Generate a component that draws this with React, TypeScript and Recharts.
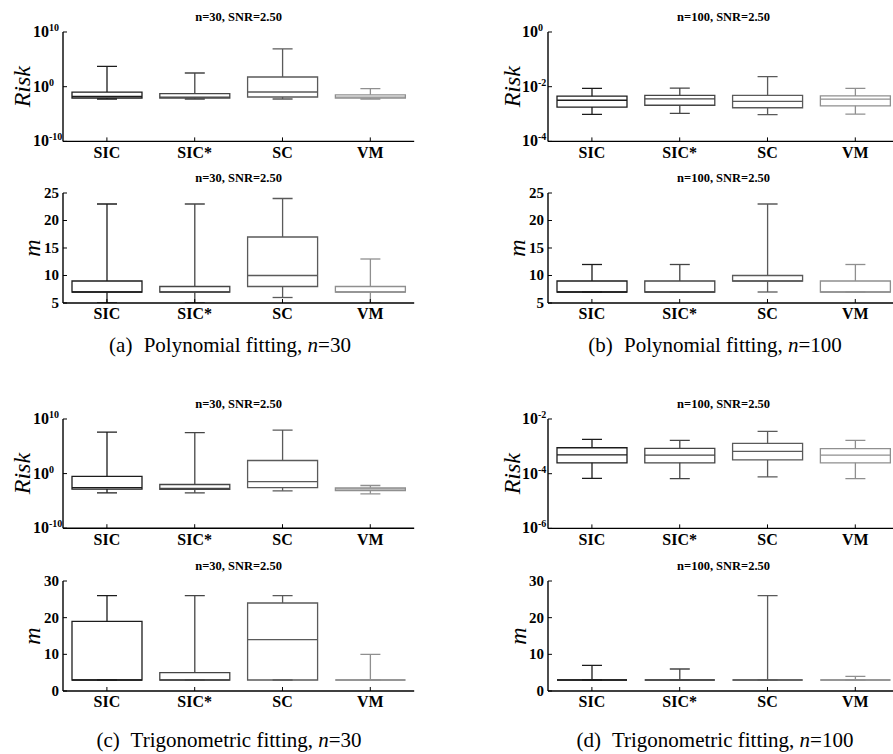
import React from 'react';
import { ComposedChart, Bar, XAxis, YAxis } from 'recharts';

// ---------- data ----------
const methods = ['SIC', 'SIC*', 'SC', 'VM'];
const methodColors = ['#1c1c1c', '#454545', '#5a5a5a', '#8f8f8f'];

// five-number summaries per method: [min, q1, median, q3, max], order SIC, SIC*, SC, VM
const polyN30Risk = [
  [0.0056, 0.0085, 0.017, 0.105, 5000],
  [0.0056, 0.0085, 0.0126, 0.052, 316],
  [0.0056, 0.0132, 0.107, 59, 7.9e6],
  [0.0056, 0.0079, 0.0126, 0.032, 0.43],
];
const polyN30M = [
  [5, 7, 7, 9, 23],
  [5, 7, 7, 8, 23],
  [6, 8, 10, 17, 24],
  [5, 7, 7, 8, 13],
];
const polyN100Risk = [
  [0.00098, 0.0018, 0.0032, 0.0045, 0.0087],
  [0.00105, 0.0021, 0.0036, 0.0048, 0.0089],
  [0.00095, 0.0017, 0.0029, 0.0048, 0.0234],
  [0.001, 0.002, 0.0035, 0.0046, 0.0087],
];
const polyN100M = [
  [7, 7, 7, 9, 12],
  [7, 7, 7, 9, 12],
  [7, 9, 9, 10, 23],
  [7, 7, 7, 9, 12],
];
const trigN30Risk = [
  [0.0003, 0.00145, 0.0028, 0.32, 4e7],
  [0.0003, 0.00126, 0.0019, 0.01, 3.1e7],
  [0.00069, 0.0028, 0.035, 250, 9.5e7],
  [0.0002, 0.0008, 0.0016, 0.0025, 0.0066],
];
const trigN30M = [
  [3, 3, 3, 19, 26],
  [3, 3, 3, 5, 26],
  [3, 3, 14, 24, 26],
  [3, 3, 3, 3, 10],
];
const trigN100Risk = [
  [6.8e-5, 2.5e-4, 4.9e-4, 8.9e-4, 1.8e-3],
  [6.6e-5, 2.5e-4, 4.8e-4, 8.5e-4, 1.66e-3],
  [7.6e-5, 3.2e-4, 6.6e-4, 1.29e-3, 3.5e-3],
  [6.6e-5, 2.5e-4, 4.8e-4, 8.3e-4, 1.66e-3],
];
const trigN100M = [
  [3, 3, 3, 3, 7],
  [3, 3, 3, 3, 6],
  [3, 3, 3, 3, 26],
  [3, 3, 3, 3, 4],
];

const riskTicksN30 = [1e-10, 1, 1e10];
const riskTicksPolyN100 = [1e-4, 1e-2, 1];
const riskTicksTrigN100 = [1e-6, 1e-4, 1e-2];
const mTicksPoly = [5, 10, 15, 20, 25];
const mTicksTrig = [0, 10, 20, 30];

const titleN30 = 'n=30, SNR=2.50';
const titleN100 = 'n=100, SNR=2.50';

// ---------- styling ----------
const SERIF = '"Liberation Serif", "Times New Roman", serif';
const YW = 70;
const MT = 26;
const XH = 24;
const PLOT_W = 351.2;
const BOX_W = 70;
const CAP = 20;
const LW = 1.3;
const axisStyle = { stroke: '#000', strokeWidth: 1.4 };
const tickStyle = { stroke: '#000', strokeWidth: 1 };

function buildRows(stats: number[][]) {
  return methods.map((name, i) => {
    const [lo, q1, med, q3, hi] = stats[i];
    return {
      name,
      lower: [lo, q1],
      box: [q1, q3],
      median: [med, med],
      upper: [q3, hi],
      color: methodColors[i],
    };
  });
}

const boxShape = (p: any) => {
  const { x, y, width, height, payload } = p;
  const t = Math.min(y, y + height);
  const b = Math.max(y, y + height);
  return (
    <path
      d={`M${x},${t}H${x + width}V${b}H${x}Z`}
      fill="none"
      stroke={payload.color}
      strokeWidth={LW}
    />
  );
};

const medianShape = (p: any) => {
  const { x, y, width, payload } = p;
  return <line x1={x} x2={x + width} y1={y} y2={y} stroke={payload.color} strokeWidth={LW} />;
};

const upperShape = (p: any) => {
  const { x, y, width, height, payload } = p;
  const cx = x + width / 2;
  const t = Math.min(y, y + height);
  const b = Math.max(y, y + height);
  return (
    <g>
      <line x1={cx} x2={cx} y1={t} y2={b} stroke={payload.color} strokeWidth={LW} />
      <line x1={cx - CAP / 2} x2={cx + CAP / 2} y1={t} y2={t} stroke={payload.color} strokeWidth={LW} />
    </g>
  );
};

const lowerShape = (p: any) => {
  const { x, y, width, height, payload } = p;
  const cx = x + width / 2;
  const t = Math.min(y, y + height);
  const b = Math.max(y, y + height);
  return (
    <g>
      <line x1={cx} x2={cx} y1={t} y2={b} stroke={payload.color} strokeWidth={LW} />
      <line x1={cx - CAP / 2} x2={cx + CAP / 2} y1={b} y2={b} stroke={payload.color} strokeWidth={LW} />
    </g>
  );
};

const CatTick = (p: any) => (
  <text
    x={p.x}
    y={p.y + 16.5}
    textAnchor="middle"
    fontFamily={SERIF}
    fontWeight="bold"
    fontSize={16}
    fill="#000"
  >
    {p.payload.value}
  </text>
);

const LinTick = (p: any) => (
  <text
    x={p.x - 4}
    y={p.y + 5}
    textAnchor="end"
    fontFamily={SERIF}
    fontWeight="bold"
    fontSize={15}
    fill="#000"
  >
    {p.payload.value}
  </text>
);

const LogTick = (p: any) => {
  const e = Math.round(Math.log10(p.payload.value));
  return (
    <text x={p.x - p.off} y={p.y + 5} textAnchor="start" fontFamily={SERIF} fontWeight="bold" fontSize={16} fill="#000">
      10
      <tspan dy={-6} fontSize={10}>
        {String(e)}
      </tspan>
    </text>
  );
};

type PanelProps = {
  stats: number[][];
  ticks: number[];
  log: boolean;
  plotLeft: number;
  plotTop: number;
  plotH: number;
  title: string;
  yLabel: string;
  labelOff: number;
  expOff?: number;
};

function Panel({ stats, ticks, log, plotLeft, plotTop, plotH, title, yLabel, labelOff, expOff = 30 }: PanelProps) {
  const rows = buildRows(stats);
  const domain = [ticks[0], ticks[ticks.length - 1]];
  const W = YW + PLOT_W + 1;
  const H = MT + plotH + XH;
  const scale = log ? 'log' : 'linear';
  const lx = YW - labelOff;
  const ly = MT + plotH / 2;
  return (
    <div style={{ position: 'absolute', left: plotLeft - YW, top: plotTop - MT, width: W, height: H }}>
      <ComposedChart width={W} height={H} data={rows} margin={{ top: MT, right: 1, bottom: 0, left: 0 }}>
        <XAxis
          xAxisId="b"
          dataKey="name"
          height={XH}
          interval={0}
          tickSize={-4}
          tickMargin={4}
          axisLine={axisStyle}
          tickLine={tickStyle}
          tick={<CatTick />}
        />
        <XAxis
          xAxisId="t"
          orientation="top"
          dataKey="name"
          height={0}
          interval={0}
          tickSize={-4}
          tick={false}
          axisLine={axisStyle}
          tickLine={tickStyle}
        />
        <XAxis xAxisId="w1" dataKey="name" hide />
        <XAxis xAxisId="w2" dataKey="name" hide />
        <XAxis xAxisId="md" dataKey="name" hide />
        <YAxis
          yAxisId="l"
          width={YW}
          scale={scale}
          domain={domain}
          ticks={ticks}
          allowDataOverflow
          interval={0}
          tickSize={-4}
          tickMargin={4}
          axisLine={axisStyle}
          tickLine={tickStyle}
          tick={log ? <LogTick off={expOff} /> : <LinTick />}
        />
        <YAxis
          yAxisId="r"
          orientation="right"
          width={0}
          scale={scale}
          domain={domain}
          ticks={ticks}
          allowDataOverflow
          interval={0}
          tickSize={-4}
          tick={false}
          axisLine={axisStyle}
          tickLine={tickStyle}
        />
        <Bar xAxisId="b" yAxisId="l" dataKey="box" barSize={BOX_W} shape={boxShape} isAnimationActive={false} />
        <Bar xAxisId="w1" yAxisId="l" dataKey="lower" barSize={BOX_W} shape={lowerShape} isAnimationActive={false} />
        <Bar xAxisId="w2" yAxisId="l" dataKey="upper" barSize={BOX_W} shape={upperShape} isAnimationActive={false} />
        <Bar xAxisId="md" yAxisId="l" dataKey="median" barSize={BOX_W} shape={medianShape} isAnimationActive={false} />
        <text
          x={YW + PLOT_W / 2}
          y={MT - 11}
          textAnchor="middle"
          fontFamily={SERIF}
          fontWeight="bold"
          fontSize={12.5}
          fill="#000"
        >
          {title}
        </text>
        <text
          x={lx}
          y={ly}
          transform={`rotate(-90 ${lx} ${ly})`}
          textAnchor="middle"
          fontFamily={SERIF}
          fontStyle="italic"
          fontSize={24}
          fill="#000"
        >
          {yLabel}
        </text>
      </ComposedChart>
    </div>
  );
}

const Caption = ({ x, y, tag, text, n }: { x: number; y: number; tag: string; text: string; n: string }) => (
  <text x={x} y={y} textAnchor="middle" fontFamily={SERIF} fontSize={21} fill="#000">
    {tag}
    <tspan dx={6}>{' ' + text + ' '}</tspan>
    <tspan fontStyle="italic">n</tspan>
    {'=' + n}
  </text>
);

export default function App() {
  return (
    <div
      style={{
        position: 'absolute',
        left: 0,
        top: 0,
        width: 893,
        height: 754,
        overflow: 'hidden',
        background: '#fff',
      }}
    >
      <Panel stats={polyN30Risk} ticks={riskTicksN30} log plotLeft={62.7} plotTop={32.3} plotH={109.4} title={titleN30} yLabel="Risk" labelOff={33} expOff={30} />
      <Panel stats={polyN30M} ticks={mTicksPoly} log={false} plotLeft={62.7} plotTop={193.3} plotH={110} title={titleN30} yLabel="m" labelOff={23} />
      <Panel stats={polyN100Risk} ticks={riskTicksPolyN100} log plotLeft={547.7} plotTop={32.3} plotH={109.4} title={titleN100} yLabel="Risk" labelOff={28} expOff={26} />
      <Panel stats={polyN100M} ticks={mTicksPoly} log={false} plotLeft={547.7} plotTop={193.3} plotH={110} title={titleN100} yLabel="m" labelOff={23} />
      <Panel stats={trigN30Risk} ticks={riskTicksN30} log plotLeft={62.7} plotTop={419.3} plotH={109.2} title={titleN30} yLabel="Risk" labelOff={33} expOff={30} />
      <Panel stats={trigN30M} ticks={mTicksTrig} log={false} plotLeft={62.7} plotTop={580.7} plotH={110} title={titleN30} yLabel="m" labelOff={23} />
      <Panel stats={trigN100Risk} ticks={riskTicksTrigN100} log plotLeft={547.7} plotTop={419.3} plotH={109.4} title={titleN100} yLabel="Risk" labelOff={28} expOff={26} />
      <Panel stats={trigN100M} ticks={mTicksTrig} log={false} plotLeft={547.7} plotTop={580.7} plotH={110} title={titleN100} yLabel="m" labelOff={22} />
      <svg width={893} height={754} style={{ position: 'absolute', left: 0, top: 0, pointerEvents: 'none' }}>
        <Caption x={230} y={352} tag="(a)" text="Polynomial fitting," n="30" />
        <Caption x={715} y={352} tag="(b)" text="Polynomial fitting," n="100" />
        <Caption x={229} y={747} tag="(c)" text="Trigonometric fitting," n="30" />
        <Caption x={715} y={747} tag="(d)" text="Trigonometric fitting," n="100" />
      </svg>
    </div>
  );
}
